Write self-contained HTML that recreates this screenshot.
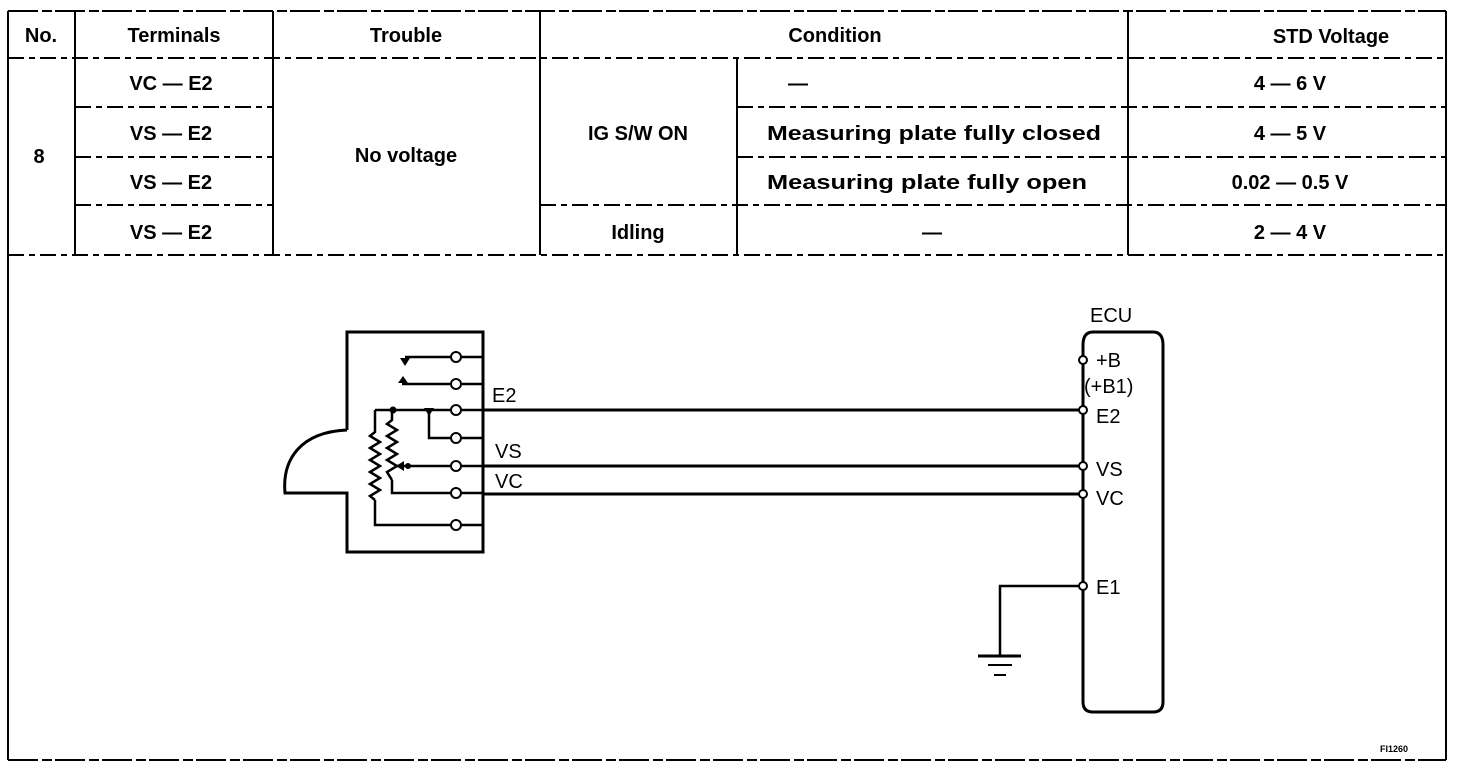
<!DOCTYPE html>
<html><head><meta charset="utf-8"><style>
html,body{margin:0;padding:0;background:#fff;}
svg{display:block;}
.t{font-family:"Liberation Sans",Arial,sans-serif;font-weight:bold;font-size:20px;fill:#000;}
.d{font-family:"Liberation Sans",Arial,sans-serif;font-size:20px;fill:#000;}
</style></head><body>
<svg width="1472" height="768" viewBox="0 0 1472 768" xmlns="http://www.w3.org/2000/svg">
<g stroke="#000" fill="none">
<!-- outer border -->
<line x1="8" y1="11" x2="1446" y2="11" stroke-width="2" stroke-dasharray="30 4 10 3"/>
<line x1="8" y1="11" x2="8" y2="760" stroke-width="2"/>
<line x1="1446" y1="11" x2="1446" y2="760" stroke-width="2"/>
<line x1="8" y1="760" x2="1446" y2="760" stroke-width="2" stroke-dasharray="30 4 10 3"/>
<!-- table horizontal -->
<g stroke-width="2" stroke-dasharray="16 5 6 5">
<line x1="8" y1="58" x2="1446" y2="58"/>
<line x1="75" y1="107" x2="273" y2="107"/>
<line x1="737" y1="107" x2="1446" y2="107"/>
<line x1="75" y1="157" x2="273" y2="157"/>
<line x1="737" y1="157" x2="1446" y2="157"/>
<line x1="75" y1="205" x2="273" y2="205"/>
<line x1="540" y1="205" x2="1446" y2="205"/>
<line x1="8" y1="255" x2="1446" y2="255"/>
</g>
<!-- table vertical -->
<g stroke-width="2">
<line x1="75" y1="11" x2="75" y2="255"/>
<line x1="273" y1="11" x2="273" y2="255"/>
<line x1="540" y1="11" x2="540" y2="255"/>
<line x1="737" y1="58" x2="737" y2="255"/>
<line x1="1128" y1="11" x2="1128" y2="255"/>
</g>
<!-- sensor box -->
<path d="M347,430 L347,332 L483,332 L483,552 L347,552 L347,493 L285,493 C282,460 300,432 347,430" stroke-width="3"/>
<g stroke-width="2.5">
<line x1="462" y1="357" x2="483" y2="357"/><line x1="405" y1="357" x2="450" y2="357"/>
<line x1="462" y1="384" x2="483" y2="384"/><line x1="402" y1="384" x2="450" y2="384"/>
<line x1="462" y1="410" x2="483" y2="410"/><line x1="375" y1="410" x2="450" y2="410"/>
<line x1="462" y1="438" x2="483" y2="438"/><polyline points="429,410 429,438 450,438"/>
<line x1="462" y1="466" x2="483" y2="466"/><line x1="395" y1="466" x2="450" y2="466"/>
<line x1="462" y1="493" x2="483" y2="493"/><polyline points="392,480 392,493 450,493"/>
<line x1="462" y1="525" x2="483" y2="525"/><polyline points="375,500 375,525 450,525"/>
<polyline points="375,410 375,432 370,436 380,442 370,448 380,454 370,460 380,466 370,472 380,478 370,484 380,490 370,496 375,500"/>
<polyline points="392,410 392,420 387,424 397,430 387,436 397,442 387,448 397,454 387,460 397,466 387,472 392,480"/>
</g>
<g stroke-width="2" fill="#fff">
<circle cx="456" cy="357" r="5"/><circle cx="456" cy="384" r="5"/><circle cx="456" cy="410" r="5"/>
<circle cx="456" cy="438" r="5"/><circle cx="456" cy="466" r="5"/><circle cx="456" cy="493" r="5"/><circle cx="456" cy="525" r="5"/>
</g>
<!-- wires -->
<g stroke-width="3">
<line x1="483" y1="410" x2="1080" y2="410"/>
<line x1="483" y1="466" x2="1080" y2="466"/>
<line x1="483" y1="494" x2="1080" y2="494"/>
</g>
<!-- ECU -->
<path d="M1083,345 Q1083,332 1093,332 L1153,332 Q1163,332 1163,345 L1163,702 Q1163,712 1153,712 L1093,712 Q1083,712 1083,702 Z" stroke-width="3"/>
<polyline points="1083,586 1000,586 1000,655" stroke-width="2.5"/>
<line x1="978" y1="656" x2="1021" y2="656" stroke-width="3"/>
<line x1="988" y1="665" x2="1012" y2="665" stroke-width="2"/>
<line x1="994" y1="675" x2="1006" y2="675" stroke-width="2"/>
<g stroke-width="2" fill="#fff">
<circle cx="1083" cy="360" r="4"/><circle cx="1083" cy="410" r="4"/><circle cx="1083" cy="466" r="4"/>
<circle cx="1083" cy="494" r="4"/><circle cx="1083" cy="586" r="4"/>
</g>
</g>
<g fill="#000">
<circle cx="393" cy="410" r="3.5"/>
<polygon points="424,408 434,408 429,416"/>
<polygon points="400,358 410,358 405,366"/>
<polygon points="398,383 408,383 403,376"/>
<polygon points="396,466 404,461 404,471"/>
<circle cx="408" cy="466" r="3"/>
</g>
<!-- table text -->
<g class="t" text-anchor="middle">
<text x="41" y="42">No.</text>
<text x="174" y="42">Terminals</text>
<text x="406" y="42">Trouble</text>
<text x="835" y="42">Condition</text>
<text x="1331" y="43">STD Voltage</text>
<text x="171" y="90">VC — E2</text>
<text x="171" y="140">VS — E2</text>
<text x="171" y="189">VS — E2</text>
<text x="171" y="239">VS — E2</text>
<text x="39" y="163">8</text>
<text x="406" y="162">No voltage</text>
<text x="638" y="140">IG S/W ON</text>
<text x="638" y="239">Idling</text>
<text x="798" y="90">—</text>
<text x="934" y="140" textLength="334" lengthAdjust="spacingAndGlyphs">Measuring plate fully closed</text>
<text x="927" y="189" textLength="320" lengthAdjust="spacingAndGlyphs">Measuring plate fully open</text>
<text x="932" y="239">—</text>
<text x="1290" y="90">4 — 6 V</text>
<text x="1290" y="140">4 — 5 V</text>
<text x="1290" y="189">0.02 — 0.5 V</text>
<text x="1290" y="239">2 — 4 V</text>
</g>
<g class="d">
<text x="492" y="402">E2</text>
<text x="495" y="458">VS</text>
<text x="495" y="488">VC</text>
<text x="1090" y="322">ECU</text>
<text x="1096" y="367">+B</text>
<text x="1084" y="393">(+B1)</text>
<text x="1096" y="423">E2</text>
<text x="1096" y="476">VS</text>
<text x="1096" y="505">VC</text>
<text x="1096" y="594">E1</text>
<text x="1380" y="752" style="font-size:9px;font-weight:bold">FI1260</text>
</g>
</svg>
</body></html>
